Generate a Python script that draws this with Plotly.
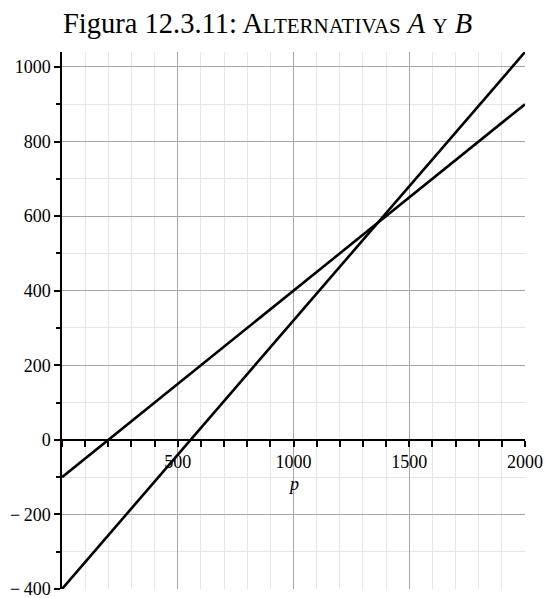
import plotly.graph_objects as go

p_vals = [0, 2000]
alt_a = [-100, 900]
alt_b = [-400, 1040]

x_tickvals = [500, 1000, 1500, 2000]
x_ticktext = ["500", "1000", "1500", "2000"]
y_tickvals = [-400, -200, 0, 200, 400, 600, 800, 1000]
y_ticktext = ["\u2212\u2009400", "\u2212\u2009200", "0", "200", "400", "600", "800", "1000"]

x_range = [0, 2000]
y_range = [-400, 1040]

font_family = "Liberation Serif"
tick_font = dict(family=font_family, size=18, color="black")

fig = go.Figure()
for ys in (alt_a, alt_b):
    fig.add_trace(go.Scatter(x=p_vals, y=ys, mode="lines",
                             line=dict(color="black", width=2.6),
                             showlegend=False, hoverinfo="skip"))

xpos = (0 - y_range[0]) / (y_range[1] - y_range[0])

fig.update_layout(
    width=545, height=598,
    margin=dict(l=62, r=20, t=52, b=9),
    paper_bgcolor="white", plot_bgcolor="white",
    font=dict(family=font_family, size=18, color="black"),
    xaxis=dict(range=x_range, anchor="free", position=xpos,
               showline=True, linecolor="black", linewidth=1.5,
               ticks="outside", ticklen=6, tickwidth=1.5, tickcolor="black",
               tickvals=x_tickvals, ticktext=x_ticktext, tickfont=tick_font,
               ticklabeloverflow="allow",
               showgrid=True, gridcolor="#a6a6a6", gridwidth=1,
               minor=dict(dtick=100, tick0=0, ticks="outside", ticklen=6,
                          tickwidth=1.5, tickcolor="black",
                          showgrid=True, gridcolor="#e6e6e6", gridwidth=1),
               zeroline=False, fixedrange=True, automargin=False),
    yaxis=dict(range=y_range, showline=True, linecolor="black", linewidth=1.5,
               ticks="outside", ticklen=6, tickwidth=1.5, tickcolor="black",
               tickvals=y_tickvals, ticktext=y_ticktext, tickfont=tick_font,
               ticklabeloverflow="allow",
               showgrid=True, gridcolor="#a6a6a6", gridwidth=1,
               minor=dict(dtick=100, tick0=0, ticks="outside", ticklen=4,
                          tickwidth=1.5, tickcolor="black",
                          showgrid=True, gridcolor="#e6e6e6", gridwidth=1),
               zeroline=False, fixedrange=True, automargin=False),
)

title = ("Figura 12.3.11: A<span style='font-size:21px'>LTERNATIVAS</span> "
         "<i>A</i> <span style='font-size:21px'>Y</span> <i>B</i>")
fig.add_annotation(text=title, xref="paper", yref="paper", x=0.444, y=1,
                   xanchor="center", yanchor="middle", yshift=29,
                   showarrow=False, font=dict(size=28.5, family=font_family))
fig.add_annotation(text="<i>p</i>", xref="x", yref="y", x=1000, y=-118,
                   showarrow=False, font=dict(size=18, family=font_family))

fig.write_html("out.html", config={"displayModeBar": False},
               post_script="document.body.style.margin='0';"
                           "document.documentElement.style.overflow='hidden';")
